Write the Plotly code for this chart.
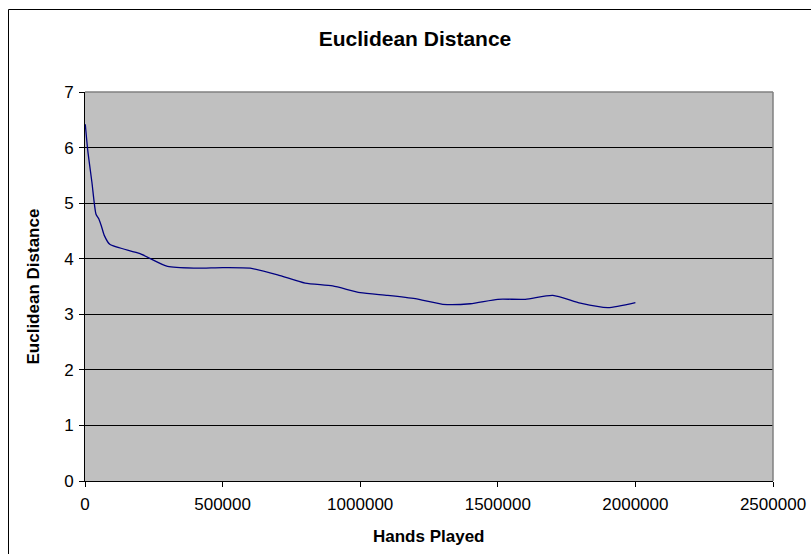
import plotly.graph_objects as go

hands_played = [1000, 10000, 25000, 40000, 50000, 60000, 70000, 90000,
                200000, 300000, 400000, 500000, 600000, 700000, 800000,
                900000, 1000000, 1100000, 1200000, 1300000, 1400000,
                1500000, 1600000, 1700000, 1800000, 1900000, 2000000]
euclidean_distance = [6.42, 5.95, 5.38, 4.80, 4.72, 4.58, 4.42, 4.26,
                      4.09, 3.86, 3.83, 3.84, 3.83, 3.71, 3.56,
                      3.51, 3.39, 3.34, 3.28, 3.18, 3.19,
                      3.27, 3.27, 3.34, 3.20, 3.12, 3.21]

title_text = "Euclidean Distance"
x_title = "Hands Played"
y_title = "Euclidean Distance"

FONT = "Liberation Sans, Arial, sans-serif"
W, H = 811, 554

fig = go.Figure()
fig.add_trace(go.Scatter(
    x=hands_played, y=euclidean_distance, mode="lines",
    line=dict(color="#000080", width=1.3, shape="spline", smoothing=0.6),
    showlegend=False, hoverinfo="x+y"))

fig.update_layout(
    width=W, height=H,
    margin=dict(l=85, r=38, t=92, b=73, autoexpand=False),
    paper_bgcolor="white", plot_bgcolor="#C0C0C0",
    font=dict(family=FONT, size=17, color="black"),
    title=dict(text=title_text, xref="container", yref="container",
               x=415/W, y=1-39/H, xanchor="center", yanchor="middle",
               font=dict(family=FONT, size=21, color="black", weight="bold")),
    xaxis=dict(range=[0, 2500000], dtick=500000, tick0=0, tickformat="d",
               showgrid=False, zeroline=False, showline=True,
               linecolor="black", linewidth=1, ticks="outside", ticklen=5,
               tickcolor="black", tickfont=dict(size=17),
               ticklabelstandoff=3),
    yaxis=dict(range=[0, 7], dtick=1, tick0=0, showgrid=True,
               gridcolor="black", gridwidth=1, zeroline=False,
               showline=True, linecolor="black", linewidth=1,
               ticks="outside", ticklen=5, tickcolor="black",
               tickfont=dict(size=17), ticklabelstandoff=2),
    annotations=[
        dict(text=x_title, xref="paper", yref="paper", x=0.5,
             y=(481-536)/389, xanchor="center", yanchor="middle",
             showarrow=False,
             font=dict(family=FONT, size=17, color="black", weight="bold")),
        dict(text=y_title, xref="paper", yref="paper", x=(33-85)/688,
             y=0.5, xanchor="center", yanchor="middle", textangle=-90,
             showarrow=False,
             font=dict(family=FONT, size=17, color="black", weight="bold")),
    ],
    shapes=[
        dict(type="line", xref="paper", yref="paper", x0=0, x1=1, y0=1, y1=1,
             line=dict(color="#808080", width=1.5), layer="above"),
        dict(type="line", xref="paper", yref="paper", x0=1, x1=1, y0=0, y1=1,
             line=dict(color="#808080", width=1.5), layer="above"),
        dict(type="rect", xref="paper", yref="paper",
             x0=(8.5-85)/688, x1=1.2, y0=-0.3, y1=(481-9.5)/389,
             line=dict(color="black", width=1), layer="below"),
    ],
)

fig.write_html(
    "out.html",
    config={"displayModeBar": False},
    post_script="document.body.style.margin='0';"
                "document.body.style.overflow='hidden';",
)
